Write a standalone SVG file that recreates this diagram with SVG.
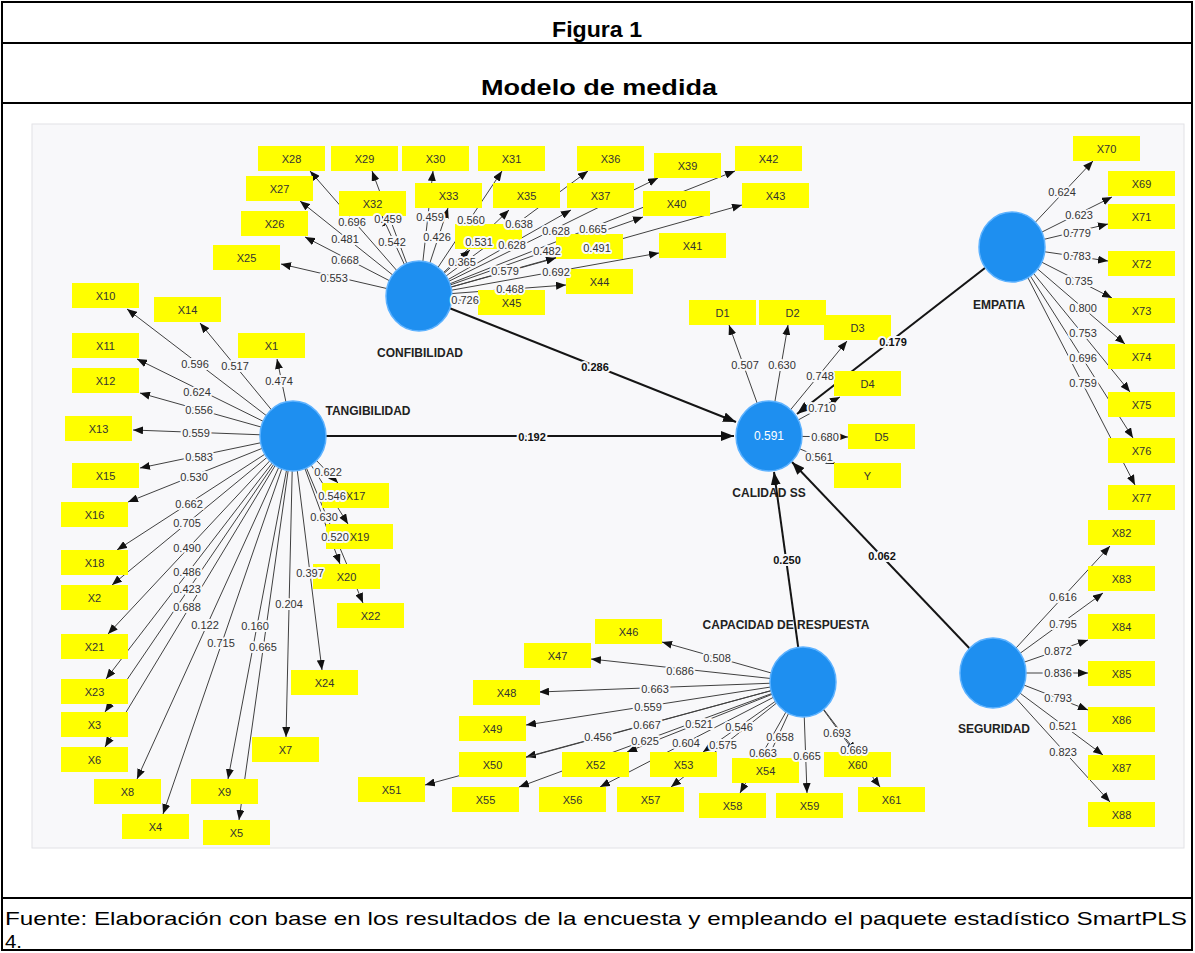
<svg xmlns="http://www.w3.org/2000/svg" width="1195" height="953" viewBox="0 0 1195 953">
<defs>
<marker id="ah" markerUnits="userSpaceOnUse" markerWidth="10" markerHeight="8" refX="10" refY="4" orient="auto">
<path d="M0,0 L10,4 L0,8 z" fill="#111"/>
</marker>
<marker id="ah2" markerUnits="userSpaceOnUse" markerWidth="13" markerHeight="10" refX="13" refY="5" orient="auto">
<path d="M0,0 L13,5 L0,10 z" fill="#111"/>
</marker>
<style>
.frame{fill:#fff;stroke:#000;stroke-width:2}
.rule{stroke:#000;stroke-width:2}
.title{font-family:"Liberation Sans",Arial,sans-serif;font-weight:bold;font-size:22px;text-anchor:middle;fill:#000}
.foot{font-family:"Liberation Sans",Arial,sans-serif;font-size:19px;fill:#000}
.canvas{fill:#f8f8fa;stroke:#e2e2e6;stroke-width:1}
.box{fill:#ffff00}
.bt{font-family:"Liberation Sans",Arial,sans-serif;font-size:11px;fill:#333;text-anchor:middle}
.lv{stroke:#404040;stroke-width:1;fill:none;marker-end:url(#ah)}
.pc{stroke:#151515;stroke-width:2;fill:none;marker-end:url(#ah2)}
.lat{fill:#1e8ff0;stroke:#5db2ff;stroke-width:1.5}
.cn{font-family:"Liberation Sans",Arial,sans-serif;font-weight:bold;font-size:12px;fill:#222;text-anchor:middle}
.r2{font-family:"Liberation Sans",Arial,sans-serif;font-size:12px;fill:#fff;text-anchor:middle}
.wl text{font-family:"Liberation Sans",Arial,sans-serif;font-size:11px;fill:#333;text-anchor:middle;paint-order:stroke;stroke:#f8f8fa;stroke-width:4px;stroke-linejoin:round}
.pl text{font-family:"Liberation Sans",Arial,sans-serif;font-size:11px;font-weight:bold;fill:#111;text-anchor:middle;paint-order:stroke;stroke:#f8f8fa;stroke-width:4px;stroke-linejoin:round}
</style>
</defs>

<!-- page frame -->
<rect class="frame" x="2" y="2" width="1190" height="948"/>
<line class="rule" x1="2" y1="43" x2="1192" y2="43"/>
<line class="rule" x1="2" y1="103" x2="1192" y2="103"/>
<line class="rule" x1="2" y1="898" x2="1192" y2="898"/>
<text class="title" x="597" y="37" textLength="90" lengthAdjust="spacingAndGlyphs">Figura 1</text>
<text class="title" x="599" y="95" textLength="236" lengthAdjust="spacingAndGlyphs">Modelo de medida</text>
<text class="foot" x="5" y="925" textLength="1182" lengthAdjust="spacingAndGlyphs">Fuente: Elaboración con base en los resultados de la encuesta y empleando el paquete estadístico SmartPLS</text>
<text class="foot" x="5" y="948" textLength="17" lengthAdjust="spacingAndGlyphs">4.</text>

<!-- model canvas -->
<rect class="canvas" x="32" y="124" width="1152" height="724"/>

<!-- construct captions -->
<g id="captions">
<text class="cn" x="368" y="415">TANGIBILIDAD</text>
<text class="cn" x="420" y="357">CONFIBILIDAD</text>
<text class="cn" x="769" y="497">CALIDAD SS</text>
<text class="cn" x="999" y="309">EMPATIA</text>
<text class="cn" x="994" y="733">SEGURIDAD</text>
<text class="cn" x="786" y="629">CAPACIDAD DE RESPUESTA</text>
</g>

<!-- connectors -->
<g id="connectors">
<!-- structural paths -->
<line class="pc" x1="419" y1="296" x2="736" y2="422"/>
<line class="pc" x1="293" y1="436" x2="734" y2="436"/>
<line class="pc" x1="1012" y1="247" x2="797" y2="414"/>
<line class="pc" x1="803" y1="682" x2="774" y2="472"/>
<line class="pc" x1="993" y1="673" x2="792" y2="462"/>
<!-- TANGIBILIDAD loadings -->
<line class="lv" x1="293" y1="436" x2="127" y2="309"/>
<line class="lv" x1="293" y1="436" x2="200" y2="323"/>
<line class="lv" x1="293" y1="436" x2="277" y2="359"/>
<line class="lv" x1="293" y1="436" x2="137" y2="359"/>
<line class="lv" x1="293" y1="436" x2="140" y2="393"/>
<line class="lv" x1="293" y1="436" x2="133" y2="430"/>
<line class="lv" x1="293" y1="436" x2="140" y2="468"/>
<line class="lv" x1="293" y1="436" x2="128" y2="502"/>
<line class="lv" x1="293" y1="436" x2="117" y2="550"/>
<line class="lv" x1="293" y1="436" x2="112" y2="585"/>
<line class="lv" x1="293" y1="436" x2="108" y2="634"/>
<line class="lv" x1="293" y1="436" x2="106" y2="679"/>
<line class="lv" x1="293" y1="436" x2="105" y2="712"/>
<line class="lv" x1="293" y1="436" x2="105" y2="747"/>
<line class="lv" x1="293" y1="436" x2="137" y2="779"/>
<line class="lv" x1="293" y1="436" x2="163" y2="814"/>
<line class="lv" x1="293" y1="436" x2="228" y2="779"/>
<line class="lv" x1="293" y1="436" x2="239" y2="820"/>
<line class="lv" x1="293" y1="436" x2="286" y2="737"/>
<line class="lv" x1="293" y1="436" x2="322" y2="670"/>
<line class="lv" x1="293" y1="436" x2="338" y2="483"/>
<line class="lv" x1="293" y1="436" x2="348" y2="524"/>
<line class="lv" x1="293" y1="436" x2="340" y2="564"/>
<line class="lv" x1="293" y1="436" x2="363" y2="603"/>
<!-- CONFIBILIDAD loadings -->
<line class="lv" x1="419" y1="296" x2="310" y2="171"/>
<line class="lv" x1="419" y1="296" x2="300" y2="201"/>
<line class="lv" x1="419" y1="296" x2="305" y2="237"/>
<line class="lv" x1="419" y1="296" x2="281" y2="264"/>
<line class="lv" x1="419" y1="296" x2="372" y2="171"/>
<line class="lv" x1="419" y1="296" x2="382" y2="216"/>
<line class="lv" x1="419" y1="296" x2="433" y2="171"/>
<line class="lv" x1="419" y1="296" x2="448" y2="208"/>
<line class="lv" x1="419" y1="296" x2="502" y2="171"/>
<line class="lv" x1="419" y1="296" x2="509" y2="210"/>
<line class="lv" x1="419" y1="296" x2="470" y2="250"/>
<line class="lv" x1="419" y1="296" x2="588" y2="171"/>
<line class="lv" x1="419" y1="296" x2="571" y2="210"/>
<line class="lv" x1="419" y1="296" x2="658" y2="178"/>
<line class="lv" x1="419" y1="296" x2="643" y2="217"/>
<line class="lv" x1="419" y1="296" x2="735" y2="171"/>
<line class="lv" x1="419" y1="296" x2="742" y2="205"/>
<line class="lv" x1="419" y1="296" x2="556" y2="258"/>
<line class="lv" x1="419" y1="296" x2="659" y2="253"/>
<line class="lv" x1="419" y1="296" x2="566" y2="285"/>
<line class="lv" x1="419" y1="296" x2="478" y2="302"/>
<!-- CALIDAD SS loadings -->
<line class="lv" x1="769" y1="436" x2="729" y2="325"/>
<line class="lv" x1="769" y1="436" x2="788" y2="325"/>
<line class="lv" x1="769" y1="436" x2="847" y2="341"/>
<line class="lv" x1="769" y1="436" x2="840" y2="397"/>
<line class="lv" x1="769" y1="436" x2="848" y2="437"/>
<line class="lv" x1="769" y1="436" x2="836" y2="464"/>
<!-- EMPATIA loadings -->
<line class="lv" x1="1012" y1="247" x2="1093" y2="161"/>
<line class="lv" x1="1012" y1="247" x2="1112" y2="197"/>
<line class="lv" x1="1012" y1="247" x2="1108" y2="224"/>
<line class="lv" x1="1012" y1="247" x2="1108" y2="261"/>
<line class="lv" x1="1012" y1="247" x2="1112" y2="298"/>
<line class="lv" x1="1012" y1="247" x2="1125" y2="344"/>
<line class="lv" x1="1012" y1="247" x2="1130" y2="392"/>
<line class="lv" x1="1012" y1="247" x2="1133" y2="438"/>
<line class="lv" x1="1012" y1="247" x2="1135" y2="485"/>
<!-- SEGURIDAD loadings -->
<line class="lv" x1="993" y1="673" x2="1110" y2="546"/>
<line class="lv" x1="993" y1="673" x2="1103" y2="593"/>
<line class="lv" x1="993" y1="673" x2="1088" y2="640"/>
<line class="lv" x1="993" y1="673" x2="1088" y2="673"/>
<line class="lv" x1="993" y1="673" x2="1088" y2="710"/>
<line class="lv" x1="993" y1="673" x2="1103" y2="755"/>
<line class="lv" x1="993" y1="673" x2="1110" y2="802"/>
<!-- CAPACIDAD DE RESPUESTA loadings -->
<line class="lv" x1="803" y1="682" x2="662" y2="642"/>
<line class="lv" x1="803" y1="682" x2="591" y2="659"/>
<line class="lv" x1="803" y1="682" x2="539" y2="692"/>
<line class="lv" x1="803" y1="682" x2="526" y2="725"/>
<line class="lv" x1="803" y1="682" x2="526" y2="757"/>
<line class="lv" x1="803" y1="682" x2="425" y2="785"/>
<line class="lv" x1="803" y1="682" x2="519" y2="787"/>
<line class="lv" x1="803" y1="682" x2="627" y2="752"/>
<line class="lv" x1="803" y1="682" x2="600" y2="787"/>
<line class="lv" x1="803" y1="682" x2="671" y2="787"/>
<line class="lv" x1="803" y1="682" x2="703" y2="752"/>
<line class="lv" x1="803" y1="682" x2="740" y2="793"/>
<line class="lv" x1="803" y1="682" x2="768" y2="758"/>
<line class="lv" x1="803" y1="682" x2="807" y2="793"/>
<line class="lv" x1="803" y1="682" x2="856" y2="752"/>
<line class="lv" x1="803" y1="682" x2="880" y2="787"/>
</g>

<!-- indicators -->
<g id="indicators">
<g id="X10"><rect class="box" x="72" y="283" width="67" height="25"/><text class="bt" x="105.5" y="299.5">X10</text></g>
<g id="X14"><rect class="box" x="154" y="297" width="67" height="25"/><text class="bt" x="187.5" y="313.5">X14</text></g>
<g id="X11"><rect class="box" x="72" y="333" width="67" height="25"/><text class="bt" x="105.5" y="349.5">X11</text></g>
<g id="X1"><rect class="box" x="238" y="333" width="67" height="25"/><text class="bt" x="271.5" y="349.5">X1</text></g>
<g id="X12"><rect class="box" x="72" y="368" width="67" height="25"/><text class="bt" x="105.5" y="384.5">X12</text></g>
<g id="X13"><rect class="box" x="65" y="416" width="67" height="25"/><text class="bt" x="98.5" y="432.5">X13</text></g>
<g id="X15"><rect class="box" x="72" y="463" width="67" height="25"/><text class="bt" x="105.5" y="479.5">X15</text></g>
<g id="X16"><rect class="box" x="61" y="502" width="67" height="25"/><text class="bt" x="94.5" y="518.5">X16</text></g>
<g id="X18"><rect class="box" x="61" y="550" width="67" height="25"/><text class="bt" x="94.5" y="566.5">X18</text></g>
<g id="X2"><rect class="box" x="61" y="585" width="67" height="25"/><text class="bt" x="94.5" y="601.5">X2</text></g>
<g id="X21"><rect class="box" x="61" y="634" width="67" height="25"/><text class="bt" x="94.5" y="650.5">X21</text></g>
<g id="X23"><rect class="box" x="61" y="679" width="67" height="25"/><text class="bt" x="94.5" y="695.5">X23</text></g>
<g id="X3"><rect class="box" x="61" y="712" width="67" height="25"/><text class="bt" x="94.5" y="728.5">X3</text></g>
<g id="X6"><rect class="box" x="61" y="747" width="67" height="25"/><text class="bt" x="94.5" y="763.5">X6</text></g>
<g id="X8"><rect class="box" x="94" y="779" width="67" height="25"/><text class="bt" x="127.5" y="795.5">X8</text></g>
<g id="X4"><rect class="box" x="122" y="814" width="67" height="25"/><text class="bt" x="155.5" y="830.5">X4</text></g>
<g id="X9"><rect class="box" x="191" y="779" width="67" height="25"/><text class="bt" x="224.5" y="795.5">X9</text></g>
<g id="X5"><rect class="box" x="203" y="820" width="67" height="25"/><text class="bt" x="236.5" y="836.5">X5</text></g>
<g id="X7"><rect class="box" x="252" y="737" width="67" height="25"/><text class="bt" x="285.5" y="753.5">X7</text></g>
<g id="X24"><rect class="box" x="291" y="670" width="67" height="25"/><text class="bt" x="324.5" y="686.5">X24</text></g>
<g id="X17"><rect class="box" x="322" y="483" width="67" height="25"/><text class="bt" x="355.5" y="499.5">X17</text></g>
<g id="X19"><rect class="box" x="326" y="524" width="67" height="25"/><text class="bt" x="359.5" y="540.5">X19</text></g>
<g id="X20"><rect class="box" x="313" y="564" width="67" height="25"/><text class="bt" x="346.5" y="580.5">X20</text></g>
<g id="X22"><rect class="box" x="337" y="603" width="67" height="25"/><text class="bt" x="370.5" y="619.5">X22</text></g>

<g id="X28"><rect class="box" x="258" y="146" width="67" height="25"/><text class="bt" x="291.5" y="162.5">X28</text></g>
<g id="X27"><rect class="box" x="246" y="176" width="67" height="25"/><text class="bt" x="279.5" y="192.5">X27</text></g>
<g id="X26"><rect class="box" x="241" y="211" width="67" height="25"/><text class="bt" x="274.5" y="227.5">X26</text></g>
<g id="X25"><rect class="box" x="213" y="245" width="67" height="25"/><text class="bt" x="246.5" y="261.5">X25</text></g>
<g id="X29"><rect class="box" x="331" y="146" width="67" height="25"/><text class="bt" x="364.5" y="162.5">X29</text></g>
<g id="X30"><rect class="box" x="402" y="146" width="67" height="25"/><text class="bt" x="435.5" y="162.5">X30</text></g>
<g id="X31"><rect class="box" x="478" y="146" width="67" height="25"/><text class="bt" x="511.5" y="162.5">X31</text></g>
<g id="X36"><rect class="box" x="577" y="146" width="67" height="25"/><text class="bt" x="610.5" y="162.5">X36</text></g>
<g id="X39"><rect class="box" x="654" y="153" width="67" height="25"/><text class="bt" x="687.5" y="169.5">X39</text></g>
<g id="X42"><rect class="box" x="735" y="146" width="67" height="25"/><text class="bt" x="768.5" y="162.5">X42</text></g>
<g id="X32"><rect class="box" x="339" y="191" width="67" height="25"/><text class="bt" x="372.5" y="207.5">X32</text></g>
<g id="X33"><rect class="box" x="415" y="183" width="67" height="25"/><text class="bt" x="448.5" y="199.5">X33</text></g>
<g id="X35"><rect class="box" x="493" y="183" width="67" height="25"/><text class="bt" x="526.5" y="199.5">X35</text></g>
<g id="X37"><rect class="box" x="567" y="183" width="67" height="25"/><text class="bt" x="600.5" y="199.5">X37</text></g>
<g id="X40"><rect class="box" x="643" y="191" width="67" height="25"/><text class="bt" x="676.5" y="207.5">X40</text></g>
<g id="X43"><rect class="box" x="742" y="183" width="67" height="25"/><text class="bt" x="775.5" y="199.5">X43</text></g>
<g id="X34"><rect class="box" x="455" y="224" width="67" height="25"/></g>
<g id="X38"><rect class="box" x="556" y="234" width="67" height="25"/></g>
<g id="X41"><rect class="box" x="659" y="233" width="67" height="25"/><text class="bt" x="692.5" y="249.5">X41</text></g>
<g id="X44"><rect class="box" x="566" y="269" width="67" height="25"/><text class="bt" x="599.5" y="285.5">X44</text></g>
<g id="X45"><rect class="box" x="478" y="290" width="67" height="25"/><text class="bt" x="511.5" y="306.5">X45</text></g>

<g id="D1"><rect class="box" x="689" y="300" width="67" height="25"/><text class="bt" x="722.5" y="316.5">D1</text></g>
<g id="D2"><rect class="box" x="759" y="300" width="67" height="25"/><text class="bt" x="792.5" y="316.5">D2</text></g>
<g id="D3"><rect class="box" x="824" y="315" width="67" height="25"/><text class="bt" x="857.5" y="331.5">D3</text></g>
<g id="D4"><rect class="box" x="834" y="371" width="67" height="25"/><text class="bt" x="867.5" y="387.5">D4</text></g>
<g id="D5"><rect class="box" x="848" y="424" width="67" height="25"/><text class="bt" x="881.5" y="440.5">D5</text></g>
<g id="Y"><rect class="box" x="834" y="463" width="67" height="25"/><text class="bt" x="867.5" y="479.5">Y</text></g>

<g id="X70"><rect class="box" x="1073" y="136" width="67" height="25"/><text class="bt" x="1106.5" y="152.5">X70</text></g>
<g id="X69"><rect class="box" x="1108" y="171" width="67" height="25"/><text class="bt" x="1141.5" y="187.5">X69</text></g>
<g id="X71"><rect class="box" x="1108" y="204" width="67" height="25"/><text class="bt" x="1141.5" y="220.5">X71</text></g>
<g id="X72"><rect class="box" x="1108" y="251" width="67" height="25"/><text class="bt" x="1141.5" y="267.5">X72</text></g>
<g id="X73"><rect class="box" x="1108" y="298" width="67" height="25"/><text class="bt" x="1141.5" y="314.5">X73</text></g>
<g id="X74"><rect class="box" x="1108" y="344" width="67" height="25"/><text class="bt" x="1141.5" y="360.5">X74</text></g>
<g id="X75"><rect class="box" x="1108" y="392" width="67" height="25"/><text class="bt" x="1141.5" y="408.5">X75</text></g>
<g id="X76"><rect class="box" x="1108" y="438" width="67" height="25"/><text class="bt" x="1141.5" y="454.5">X76</text></g>
<g id="X77"><rect class="box" x="1108" y="485" width="67" height="25"/><text class="bt" x="1141.5" y="501.5">X77</text></g>

<g id="X82"><rect class="box" x="1088" y="520" width="67" height="25"/><text class="bt" x="1121.5" y="536.5">X82</text></g>
<g id="X83"><rect class="box" x="1088" y="566" width="67" height="25"/><text class="bt" x="1121.5" y="582.5">X83</text></g>
<g id="X84"><rect class="box" x="1088" y="614" width="67" height="25"/><text class="bt" x="1121.5" y="630.5">X84</text></g>
<g id="X85"><rect class="box" x="1088" y="661" width="67" height="25"/><text class="bt" x="1121.5" y="677.5">X85</text></g>
<g id="X86"><rect class="box" x="1088" y="707" width="67" height="25"/><text class="bt" x="1121.5" y="723.5">X86</text></g>
<g id="X87"><rect class="box" x="1088" y="755" width="67" height="25"/><text class="bt" x="1121.5" y="771.5">X87</text></g>
<g id="X88"><rect class="box" x="1088" y="802" width="67" height="25"/><text class="bt" x="1121.5" y="818.5">X88</text></g>

<g id="X46"><rect class="box" x="595" y="619" width="67" height="25"/><text class="bt" x="628.5" y="635.5">X46</text></g>
<g id="X47"><rect class="box" x="524" y="643" width="67" height="25"/><text class="bt" x="557.5" y="659.5">X47</text></g>
<g id="X48"><rect class="box" x="473" y="680" width="67" height="25"/><text class="bt" x="506.5" y="696.5">X48</text></g>
<g id="X49"><rect class="box" x="459" y="716" width="67" height="25"/><text class="bt" x="492.5" y="732.5">X49</text></g>
<g id="X50"><rect class="box" x="459" y="752" width="67" height="25"/><text class="bt" x="492.5" y="768.5">X50</text></g>
<g id="X51"><rect class="box" x="358" y="777" width="67" height="25"/><text class="bt" x="391.5" y="793.5">X51</text></g>
<g id="X52"><rect class="box" x="562" y="752" width="67" height="25"/><text class="bt" x="595.5" y="768.5">X52</text></g>
<g id="X53"><rect class="box" x="650" y="752" width="67" height="25"/><text class="bt" x="683.5" y="768.5">X53</text></g>
<g id="X54"><rect class="box" x="732" y="758" width="67" height="25"/><text class="bt" x="765.5" y="774.5">X54</text></g>
<g id="X55"><rect class="box" x="452" y="787" width="67" height="25"/><text class="bt" x="485.5" y="803.5">X55</text></g>
<g id="X56"><rect class="box" x="539" y="787" width="67" height="25"/><text class="bt" x="572.5" y="803.5">X56</text></g>
<g id="X57"><rect class="box" x="617" y="787" width="67" height="25"/><text class="bt" x="650.5" y="803.5">X57</text></g>
<g id="X58"><rect class="box" x="699" y="793" width="67" height="25"/><text class="bt" x="732.5" y="809.5">X58</text></g>
<g id="X59"><rect class="box" x="776" y="793" width="67" height="25"/><text class="bt" x="809.5" y="809.5">X59</text></g>
<g id="X60"><rect class="box" x="824" y="752" width="67" height="25"/><text class="bt" x="857.5" y="768.5">X60</text></g>
<g id="X61"><rect class="box" x="858" y="787" width="67" height="25"/><text class="bt" x="891.5" y="803.5">X61</text></g>
</g>

<!-- latent variables -->
<g id="TANGIBILIDAD"><ellipse class="lat" cx="293" cy="436" rx="33" ry="35"/></g>
<g id="CONFIBILIDAD"><ellipse class="lat" cx="419" cy="296" rx="33" ry="35"/></g>
<g id="CALIDAD_SS"><ellipse class="lat" cx="769" cy="436" rx="33" ry="35"/><text class="r2" x="769" y="440">0.591</text></g>
<g id="EMPATIA"><ellipse class="lat" cx="1012" cy="247" rx="33" ry="35"/></g>
<g id="SEGURIDAD"><ellipse class="lat" cx="993" cy="673" rx="33" ry="35"/></g>
<g id="CAPACIDAD"><ellipse class="lat" cx="803" cy="682" rx="33" ry="35"/></g>

<!-- outer loadings -->
<g class="wl" id="loadings">
<text x="195" y="368">0.596</text>
<text x="235" y="370">0.517</text>
<text x="279" y="385">0.474</text>
<text x="197" y="396">0.624</text>
<text x="199" y="414">0.556</text>
<text x="196" y="437">0.559</text>
<text x="199" y="461">0.583</text>
<text x="194" y="481">0.530</text>
<text x="189" y="508">0.662</text>
<text x="187" y="527">0.705</text>
<text x="187" y="552">0.490</text>
<text x="187" y="576">0.486</text>
<text x="187" y="593">0.423</text>
<text x="187" y="611">0.688</text>
<text x="205" y="629">0.122</text>
<text x="221" y="647">0.715</text>
<text x="255" y="630">0.160</text>
<text x="263" y="651">0.665</text>
<text x="289" y="608">0.204</text>
<text x="310" y="577">0.397</text>
<text x="328" y="476">0.622</text>
<text x="332" y="500">0.546</text>
<text x="324" y="521">0.630</text>
<text x="335" y="541">0.520</text>

<text x="352" y="226">0.696</text>
<text x="345" y="243">0.481</text>
<text x="345" y="264">0.668</text>
<text x="334" y="282">0.553</text>
<text x="388" y="223">0.459</text>
<text x="392" y="246">0.542</text>
<text x="430" y="221">0.459</text>
<text x="437" y="241">0.426</text>
<text x="471" y="224">0.560</text>
<text x="479" y="246">0.531</text>
<text x="462" y="266">0.365</text>
<text x="519" y="228">0.638</text>
<text x="512" y="249">0.628</text>
<text x="556" y="235">0.628</text>
<text x="547" y="255">0.482</text>
<text x="593" y="233">0.665</text>
<text x="597" y="252">0.491</text>
<text x="505" y="275">0.579</text>
<text x="556" y="276">0.692</text>
<text x="510" y="293">0.468</text>
<text x="465" y="304">0.726</text>

<text x="745" y="369">0.507</text>
<text x="782" y="369">0.630</text>
<text x="820" y="380">0.748</text>
<text x="822" y="412">0.710</text>
<text x="825" y="441">0.680</text>
<text x="819" y="461">0.561</text>

<text x="1062" y="196">0.624</text>
<text x="1079" y="219">0.623</text>
<text x="1077" y="237">0.779</text>
<text x="1077" y="260">0.783</text>
<text x="1079" y="285">0.735</text>
<text x="1083" y="312">0.800</text>
<text x="1083" y="337">0.753</text>
<text x="1083" y="362">0.696</text>
<text x="1083" y="387">0.759</text>

<text x="1063" y="601">0.616</text>
<text x="1063" y="628">0.795</text>
<text x="1058" y="655">0.872</text>
<text x="1058" y="677">0.836</text>
<text x="1058" y="702">0.793</text>
<text x="1063" y="730">0.521</text>
<text x="1063" y="756">0.823</text>

<text x="717" y="662">0.508</text>
<text x="680" y="675">0.686</text>
<text x="655" y="693">0.663</text>
<text x="648" y="711">0.559</text>
<text x="647" y="729">0.667</text>
<text x="598" y="741">0.456</text>
<text x="645" y="745">0.625</text>
<text x="699" y="728">0.521</text>
<text x="686" y="747">0.604</text>
<text x="723" y="749">0.575</text>
<text x="739" y="731">0.546</text>
<text x="763" y="757">0.663</text>
<text x="780" y="741">0.658</text>
<text x="807" y="760">0.665</text>
<text x="837" y="737">0.693</text>
<text x="854" y="754">0.669</text>
</g>

<!-- path coefficients -->
<g class="pl" id="paths">
<text x="595" y="371">0.286</text>
<text x="532" y="441">0.192</text>
<text x="893" y="346">0.179</text>
<text x="787" y="564">0.250</text>
<text x="882" y="560">0.062</text>
</g>
</svg>
